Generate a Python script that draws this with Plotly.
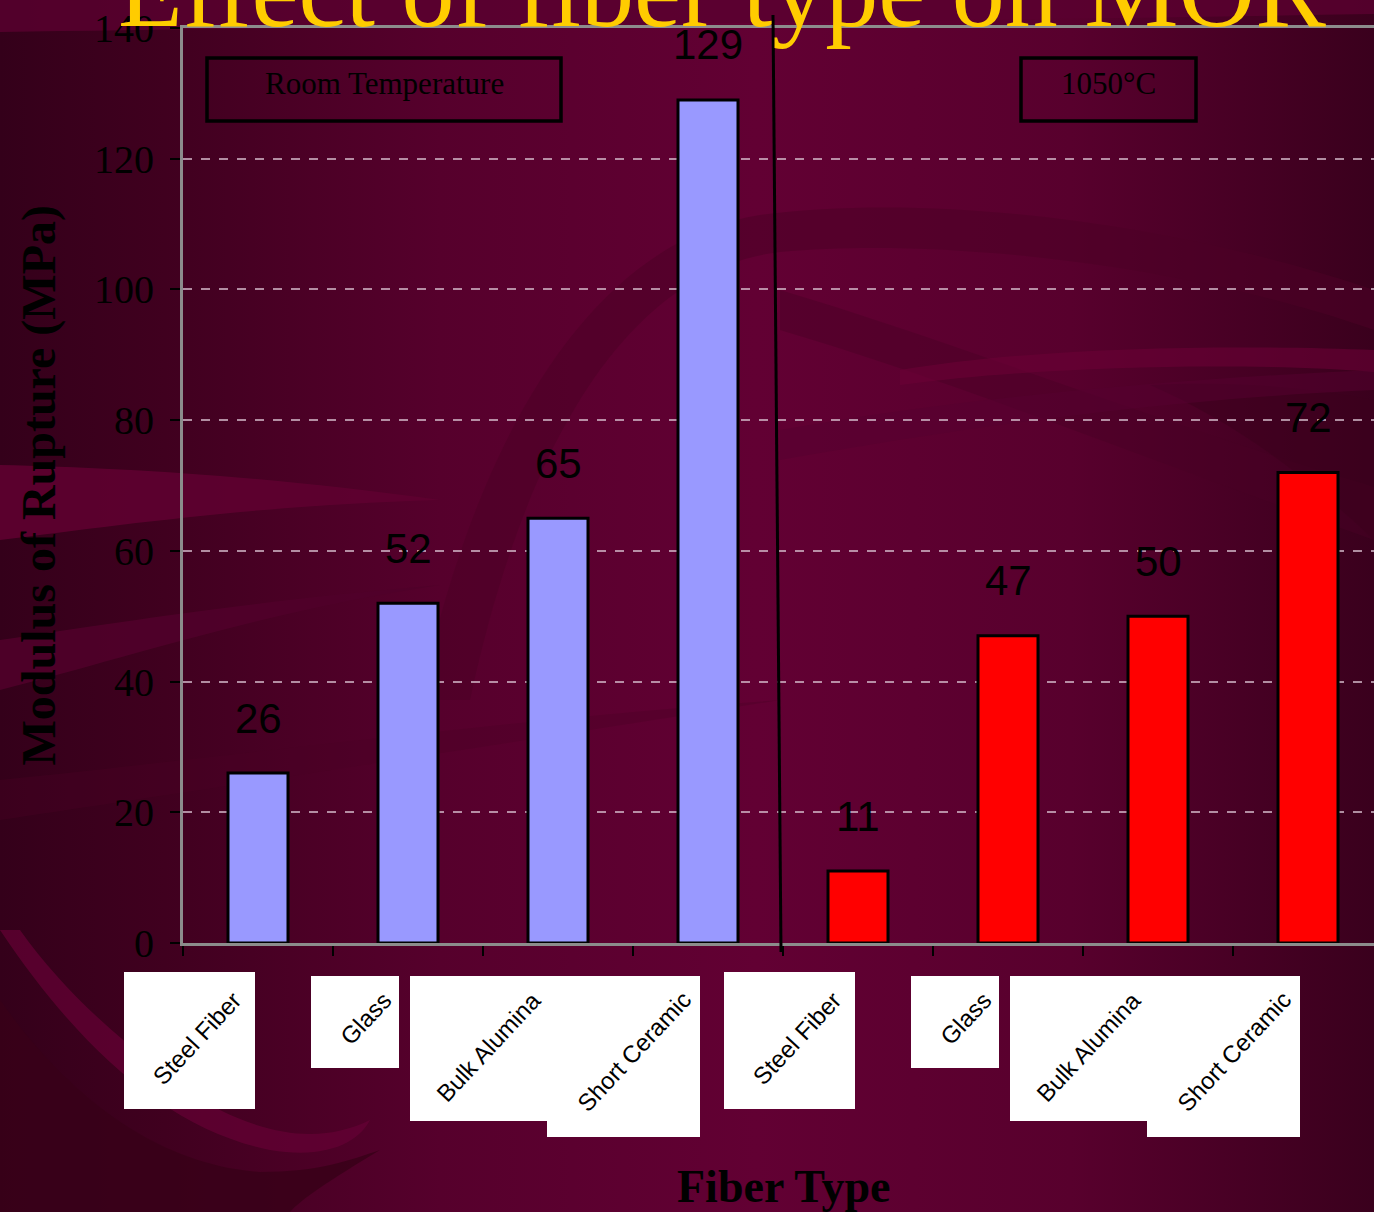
import base64
import plotly.graph_objects as go

# ---- data -------------------------------------------------------------
fiber_types = ["Steel Fiber", "Glass", "Bulk Alumina", "Short Ceramic"]
conditions = ["Room Temperature", "1050°C"]
mor_room = [26, 52, 65, 129]     # MPa, room temperature
mor_hot = [11, 47, 50, 72]       # MPa, after 1050 °C
y_ticks = [0, 20, 40, 60, 80, 100, 120, 140]

# ---- page geometry ----------------------------------------------------
W, H = 1374, 1212
ML, MR, MT, MB = 183, 0, 28, 269
PW, PH = W - ML - MR, H - MT - MB
X_RANGE = [-0.5, 7.44]
CAT_PX = PW / (X_RANGE[1] - X_RANGE[0])   # pixels per category slot


def px_x(px):
    return (px - ML) / PW


def px_y(py):
    return (H - MB - py) / PH


def data_x_to_paper(x):
    return (x - X_RANGE[0]) / (X_RANGE[1] - X_RANGE[0])


n = len(fiber_types)
x_room = list(range(n))
x_hot = [n + i for i in range(n)]

BLUE = "#9999FF"
RED = "#FF0000"
SERIF = "Liberation Serif"
SANS = "Liberation Sans"

# ---- slide-style background ------------------------------------------
svg = f"""<svg xmlns='http://www.w3.org/2000/svg' width='{W}' height='{H}' viewBox='0 0 {W} {H}'>
<defs>
<linearGradient id='g' x1='0' x2='1' y1='0' y2='0'>
<stop offset='0' stop-color='#34001A'/>
<stop offset='0.12' stop-color='#40001F'/>
<stop offset='0.32' stop-color='#56002C'/>
<stop offset='0.55' stop-color='#620033'/>
<stop offset='0.78' stop-color='#58002D'/>
<stop offset='1' stop-color='#3A001D'/>
</linearGradient>
</defs>
<rect width='{W}' height='{H}' fill='url(#g)'/>
<path d='M0 0 L1374 0 L1374 14 C900 22 400 26 0 32 Z' fill='#5A002F' opacity='0.8'/>
<path d='M0 465 C120 468 260 475 440 500 C260 505 120 525 0 540 Z' fill='#5E0030' opacity='0.9'/>
<path d='M0 640 C120 622 260 600 440 585 C260 612 120 660 0 690 Z' fill='#50002A' opacity='0.9'/>
<path d='M420 700 C480 420 600 240 760 215 C950 190 1200 230 1374 290 L1374 330 C1200 268 950 236 780 252 C640 268 530 420 470 700 Z' fill='#4C0027' opacity='0.55'/>
<path d='M780 290 C950 340 1150 420 1374 487 L1374 540 C1150 460 950 380 780 330 Z' fill='#4A0026' opacity='0.45'/>
<path d='M900 370 C1050 345 1250 345 1374 350 L1374 372 C1250 362 1050 365 900 385 Z' fill='#6A0036' opacity='0.6'/>
<path d='M1150 385 C1250 380 1320 390 1374 400 L1374 540 C1300 470 1230 420 1150 385 Z' fill='#3C001E' opacity='0.55'/>
<path d='M780 430 C950 400 1150 380 1374 370 L1374 390 C1150 400 950 430 780 460 Z' fill='#560030' opacity='0.5'/>
<path d='M0 1000 C70 1100 160 1165 260 1172 C320 1172 350 1160 380 1150 C330 1180 300 1200 290 1212 L0 1212 Z' fill='#380019' opacity='0.85'/>
<path d='M0 930 C80 1050 170 1130 270 1150 C330 1160 360 1140 370 1120 C330 1140 280 1140 220 1110 C140 1060 70 1000 20 930 Z' fill='#650034' opacity='0.7'/>
<path d='M0 780 C200 760 500 720 780 700 C500 745 200 790 0 820 Z' fill='#4A0026' opacity='0.35'/>
</svg>"""
bg_uri = "data:image/svg+xml;base64," + base64.b64encode(svg.encode()).decode()

fig = go.Figure()

fig.add_trace(go.Bar(
    x=x_room, y=mor_room, width=0.4, name=conditions[0],
    marker=dict(color=BLUE, line=dict(color="black", width=3)),
    showlegend=False, hoverinfo="skip",
))
fig.add_trace(go.Bar(
    x=x_hot, y=mor_hot, width=0.4, name=conditions[1],
    marker=dict(color=RED, line=dict(color="black", width=3)),
    showlegend=False, hoverinfo="skip",
))

annotations = []

# value labels above each bar
for xs, vals in ((x_room, mor_room), (x_hot, mor_hot)):
    for x, v in zip(xs, vals):
        annotations.append(dict(
            x=x, y=v, xref="x", yref="y", text=str(v), showarrow=False,
            xanchor="center", yanchor="middle", yshift=55,
            font=dict(family=SANS, size=42, color="black"),
        ))

# white label cards under the axis (offsets in px from the category centre)
card_offsets = [(-134, -3, 972, 1109), (-97, -9, 976, 1068),
                (-148, 2, 976, 1121), (-161, -8, 976, 1137)]
shapes = []
all_x = x_room + x_hot
all_labels = fiber_types + fiber_types
for k, x in enumerate(all_x):
    dl, dr, top, bot = card_offsets[k % n]
    shapes.append(dict(
        type="rect", xref="paper", yref="paper",
        x0=data_x_to_paper(x + dl / CAT_PX), x1=data_x_to_paper(x + dr / CAT_PX),
        y0=px_y(bot), y1=px_y(top),
        fillcolor="white", line=dict(width=0), layer="above",
    ))
for x, lab in zip(all_x, all_labels):
    annotations.append(dict(
        x=x, y=px_y(984), xref="x", yref="paper", text=lab, showarrow=False,
        xanchor="right", yanchor="top", xshift=-9, textangle=-47,
        font=dict(family=SANS, size=24, color="black"),
    ))

# condition boxes
for text, (x0, x1) in zip(conditions, [(207, 561), (1021, 1196)]):
    shapes.append(dict(
        type="rect", xref="paper", yref="paper",
        x0=px_x(x0), x1=px_x(x1), y0=px_y(121), y1=px_y(58),
        line=dict(color="black", width=3.5), fillcolor="rgba(0,0,0,0)", layer="above",
    ))
    annotations.append(dict(
        x=px_x((x0 + x1) / 2), y=px_y(84), xref="paper", yref="paper",
        text=text, showarrow=False, xanchor="center", yanchor="middle",
        font=dict(family=SERIF, size=31, color="black"),
    ))

# divider between the two temperature groups
shapes.append(dict(
    type="line", xref="paper", yref="paper",
    x0=px_x(773), y0=px_y(15), x1=px_x(781), y1=px_y(952),
    line=dict(color="black", width=3), layer="above",
))

# title
annotations.append(dict(
    x=px_x(722), y=px_y(-9), xref="paper", yref="paper",
    text="Effect of fiber type on MOR", showarrow=False,
    xanchor="center", yanchor="middle",
    font=dict(family=SERIF, size=106, color="#FFCC00"),
))
# axis titles
annotations.append(dict(
    x=px_x(38), y=0.5, xref="paper", yref="paper",
    text="<b>Modulus of Rupture (MPa)</b>", showarrow=False, textangle=-90,
    xanchor="center", yanchor="middle",
    font=dict(family=SERIF, size=48, color="black"),
))
annotations.append(dict(
    x=px_x(783), y=px_y(1186), xref="paper", yref="paper",
    text="<b>Fiber Type</b>", showarrow=False,
    xanchor="center", yanchor="middle",
    font=dict(family=SERIF, size=46, color="black"),
))

fig.update_layout(
    width=W, height=H, autosize=False,
    margin=dict(l=ML, r=MR, t=MT, b=MB, pad=0),
    paper_bgcolor="#4A0026",
    plot_bgcolor="rgba(0,0,0,0)",
    images=[dict(
        source=bg_uri, xref="paper", yref="paper",
        x=px_x(0), y=px_y(0), sizex=W / PW, sizey=H / PH,
        xanchor="left", yanchor="top", sizing="stretch", layer="below",
    )],
    xaxis=dict(
        range=X_RANGE, showgrid=False, zeroline=False,
        tickmode="array", tickvals=[i - 0.5 for i in range(2 * n)],
        showticklabels=False, ticks="outside", ticklen=10,
        tickcolor="black", tickwidth=1.5,
        showline=True, linecolor="#8C8C8C", linewidth=3, mirror=True,
    ),
    yaxis=dict(
        range=[0, 140], tickmode="array", tickvals=y_ticks,
        ticks="outside", ticklen=10, tickcolor="black", tickwidth=1.5,
        tickfont=dict(family=SERIF, size=40, color="black"),
        ticklabelstandoff=8,
        showgrid=True, gridcolor="rgba(215,190,205,0.75)", gridwidth=1.5,
        griddash="dash", zeroline=False,
        showline=True, linecolor="#8C8C8C", linewidth=3,
    ),
    shapes=shapes,
    annotations=annotations,
    bargap=0.6,
)

fig.write_html("out.html")
